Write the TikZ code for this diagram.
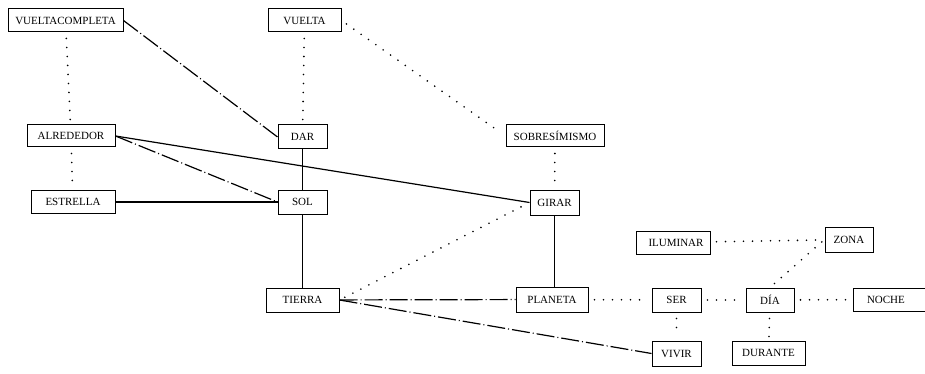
\documentclass[tikz,border=0pt]{standalone}
\usepackage{fontspec}
\setmainfont{Liberation Serif}
\begin{document}
\begin{tikzpicture}[x=1pt,y=-1pt,
  box/.style={draw,line width=1pt,rectangle,inner sep=0pt,font=\fontsize{11}{13}\selectfont},
  solidln/.style={line width=1.2pt},
  dotln/.style={line width=1.8pt,line cap=round,dash pattern=on 0pt off 9pt},
  dashdotln/.style={line width=1.2pt,dash pattern=on 18pt off 3pt on 1pt off 3pt}]
\useasboundingbox (0,0) rectangle (925,374);
\clip (0,0) rectangle (925,374);
\fill[white] (0,0) rectangle (925,374);
\node[box,minimum width=115pt,minimum height=23pt] (vc) at (65.5,20.5) {VUELTACOMPLETA};
\node[box,minimum width=73pt,minimum height=23pt] (vuelta) at (304.5,20.5) {VUELTA};
\node[box,minimum width=88pt,minimum height=22pt] (alr) at (71,136) {ALREDEDOR};
\node[box,minimum width=49pt,minimum height=24pt] (dar) at (302.5,137) {DAR};
\node[box,minimum width=84pt,minimum height=23pt] (estr) at (73,202) {ESTRELLA};
\node[box,minimum width=49pt,minimum height=24pt] (sol) at (302.5,202) {SOL};
\node[box,minimum width=98pt,minimum height=22pt] (sobre) at (555,136) {SOBRESÍMISMO};
\node[box,minimum width=49pt,minimum height=25pt] (girar) at (554.5,202.5) {GIRAR};
\node[box,minimum width=73pt,minimum height=24pt] (tierra) at (302.5,300) {TIERRA};
\node[box,minimum width=72pt,minimum height=25pt] (planeta) at (552,299.5) {PLANETA};
\node[box,minimum width=49pt,minimum height=24pt] (ser) at (676.5,300) {SER};
\node[box,minimum width=48pt,minimum height=24pt] (dia) at (770,300) {DÍA};
\node[box,minimum width=76pt,minimum height=23pt,text width=68pt,align=left] (noche) at (891,299.5) {\hspace*{10pt}NOCHE};
\node[box,minimum width=74pt,minimum height=23pt] (ilum) at (673,242.5) {\hspace*{6pt}ILUMINAR};
\node[box,minimum width=48pt,minimum height=25pt] (zona) at (849,239.5) {ZONA};
\node[box,minimum width=49pt,minimum height=25pt] (vivir) at (676.5,353.5) {VIVIR};
\node[box,minimum width=73pt,minimum height=24pt] (durante) at (768.5,353) {DURANTE};
% connectors
\draw[dotln,shorten <=6pt,shorten >=4pt] (vc) -- (alr);
\draw[dashdotln] (vc.east) -- (dar.west);
\draw[dotln,shorten <=6pt,shorten >=4pt] (vuelta) -- (dar);
\draw[dotln,shorten <=6pt,shorten >=6pt] (vuelta.east) -- (sobre.west);
\draw[dotln,shorten <=6pt,shorten >=4pt] (alr) -- (estr);
\draw[dashdotln] (alr.east) -- (sol.west);
\draw[solidln] (alr.east) -- (girar.west);
\draw[solidln] (estr) -- (sol);
\draw[solidln] (dar) -- (sol);
\draw[solidln] (sol) -- (tierra);
\draw[dotln,shorten <=6pt,shorten >=4pt] (sobre) -- (girar);
\draw[solidln] (girar.south) -- (girar.south |- planeta.north);
\draw[dotln,shorten <=6pt,shorten >=6pt] (tierra.east) -- (girar.west);
\draw[dashdotln] (tierra) -- (planeta);
\draw[dashdotln] (tierra.east) -- (vivir.west);
\draw[dotln,shorten <=6pt,shorten >=6pt] (planeta) -- (ser);
\draw[dotln,shorten <=6pt,shorten >=4pt] (ser) -- (vivir);
\draw[dotln,shorten <=6pt,shorten >=6pt] (ser) -- (dia);
\draw[dotln,shorten <=6pt,shorten >=6pt] (dia) -- (noche);
\draw[dotln,shorten <=6pt,shorten >=4pt] (dia) -- (durante);
\draw[dotln,shorten <=6pt,shorten >=3pt] (dia.north) -- (zona.west);
\draw[dotln,shorten <=6pt,shorten >=3pt] (ilum) -- (zona);
\end{tikzpicture}
\end{document}
